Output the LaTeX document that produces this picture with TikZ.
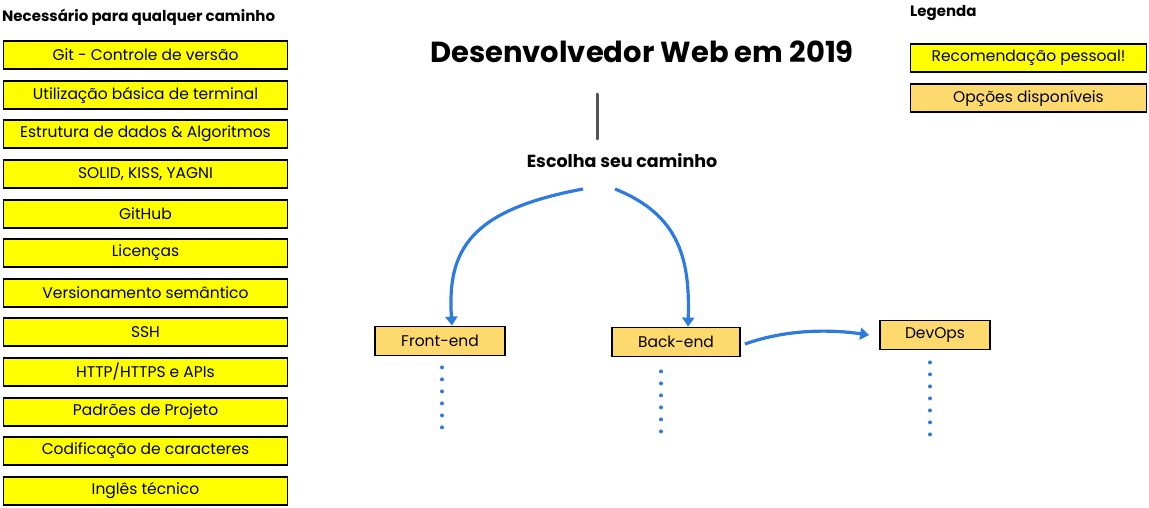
\documentclass[tikz,border=0pt]{standalone}
\usepackage{fontspec}
\setmainfont{Poppins}
\usetikzlibrary{arrows.meta}
\definecolor{yel}{HTML}{FFFF00}
\definecolor{opt}{HTML}{FDD96E}
\definecolor{arrblue}{HTML}{2E7BE0}
\definecolor{lgray}{HTML}{555555}
\begin{document}
\begin{tikzpicture}[x=1pt,y=-1pt,
  reqbox/.style={draw=black,line width=1.8pt,fill=yel,minimum width=284pt,minimum height=28pt,inner sep=0pt,font=\fontsize{15.5}{18}\selectfont},
  legbox/.style={draw=black,line width=1.8pt,minimum width=236pt,minimum height=28pt,inner sep=0pt,font=\fontsize{15.5}{18}\selectfont},
  optbox/.style={draw=black,line width=1.8pt,fill=opt,minimum height=29pt,inner sep=0pt,font=\fontsize{15.5}{18}\selectfont},
  heading/.style={font=\fontsize{15}{18}\selectfont\bfseries,inner sep=0pt},
  flow/.style={draw=arrblue,line width=3.2pt,-{Triangle[length=9pt,width=12pt]}},
  dots/.style={draw=arrblue,line width=4pt,line cap=round,dash pattern=on 0pt off 12pt}
]
\useasboundingbox (0,0) rectangle (1149,508);
\node[heading,anchor=west] (need) at (2,17) {Necessário para qualquer caminho};
\node[reqbox] (r1) at (145.5,55) {Git - Controle de versão};
\node[reqbox] (r2) at (145.5,95) {Utilização básica de terminal};
\node[reqbox] (r3) at (145.5,134) {Estrutura de dados \& Algoritmos};
\node[reqbox] (r4) at (145.5,174) {SOLID, KISS, YAGNI};
\node[reqbox] (r5) at (145.5,214) {GitHub};
\node[reqbox] (r6) at (145.5,253) {Licenças};
\node[reqbox] (r7) at (145.5,293) {Versionamento semântico};
\node[reqbox] (r8) at (145.5,332) {SSH};
\node[reqbox] (r9) at (145.5,372) {HTTP/HTTPS e APIs};
\node[reqbox] (r10) at (145.5,412) {Padrões de Projeto};
\node[reqbox] (r11) at (145.5,451) {Codificação de caracteres};
\node[reqbox] (r12) at (145.5,491) {Inglês técnico};

\node[font=\fontsize{29}{34}\selectfont\bfseries,inner sep=0pt] (title) at (642,52) {Desenvolvedor Web em 2019};
\coordinate (ltop) at (597,94);
\coordinate (lbot) at (597,139);
\draw[lgray,line width=3pt,line cap=round] (ltop) -- (lbot);
\node[font=\fontsize{17.5}{21}\selectfont\bfseries,inner sep=0pt] (choose) at (622,161) {Escolha seu caminho};

\node[heading,anchor=west] (leg) at (910,13) {Legenda};
\node[legbox,fill=yel] (lg1) at (1028.5,58) {Recomendação pessoal!};
\node[legbox,fill=opt] (lg2) at (1028.5,98) {Opções disponíveis};

\node[optbox,minimum width=130pt] (fe) at (440,341) {Front-end};
\node[optbox,minimum width=128pt] (be) at (676,342) {Back-end};
\node[optbox,minimum width=110pt] (dv) at (935,335) {DevOps};

\coordinate (c1) at (583,189);
\coordinate (c2) at (615,189);
\draw[flow] (c1) .. controls (470,210) and (447,250) .. ([xshift=12pt]fe.north);
\draw[flow] (c2) .. controls (680,215) and (690,260) .. ([xshift=12pt]be.north);
\draw[flow] ([xshift=4pt,yshift=-2pt]be.east) .. controls (790,328) and (835,330) .. ([xshift=-10pt]dv.west);

\draw[dots] ([xshift=2pt,yshift=-11pt]fe.south) -- ++(0,62);
\draw[dots] ([xshift=-15pt,yshift=-14pt]be.south) -- ++(0,62);
\draw[dots] ([xshift=-5pt,yshift=-12pt]dv.south) -- ++(0,74);
\end{tikzpicture}
\end{document}
